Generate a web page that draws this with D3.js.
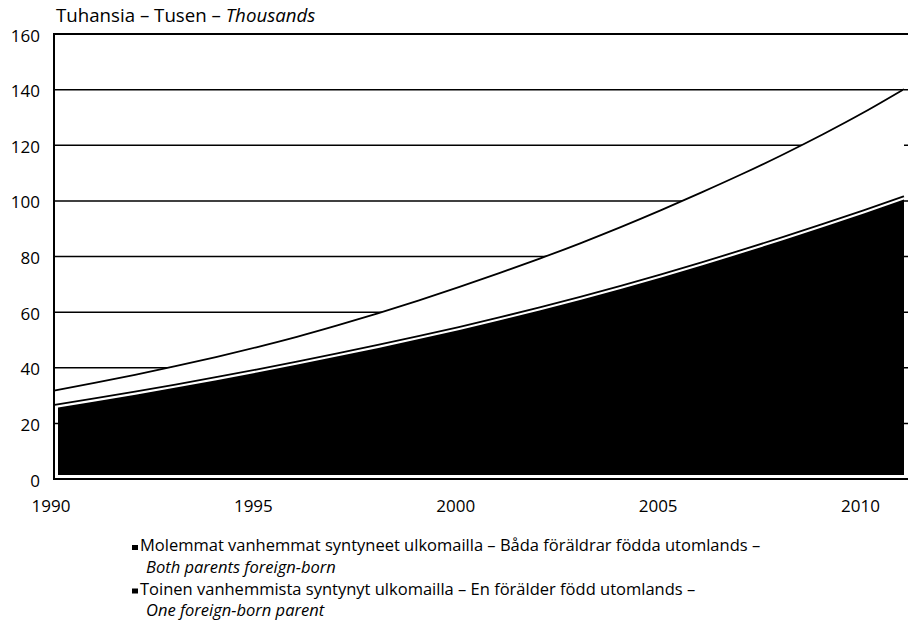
<!DOCTYPE html>
<html><head><meta charset="utf-8">
<script src="https://cdn.jsdelivr.net/npm/d3@7"></script>
<style>
html,body{margin:0;padding:0;background:#fff;}
svg{display:block;}
text{font-family:"Open Sans",sans-serif;fill:#000;}
</style></head>
<body>
<svg id="chart" width="908" height="634"></svg>
<script>
const years = [1990,1991,1992,1993,1994,1995,1996,1997,1998,1999,2000,2001,2002,2003,2004,2005,2006,2007,2008,2009,2010,2011];
// Both parents foreign-born (thousands)
const bothParents = [26.6,28.95,31.4,33.95,36.6,39.35,42.2,45.15,48.2,51.35,54.65,58.1,61.7,65.45,69.45,73.6,77.9,82.35,86.95,91.7,96.6,101.65];
// One foreign-born parent (thousands)
const oneParent = [5.2,5.6,6.05,6.6,7.25,8.0,8.9,10.05,11.35,12.8,14.35,15.9,17.55,19.3,21.1,23.05,25.15,27.3,29.65,32.25,35.15,38.5];
const yTicks = [0,20,40,60,80,100,120,140,160];
const xTicks = [1990,1995,2000,2005,2010];
const unitLabel = ["Tuhansia – Tusen – ", "Thousands"];
const legendItems = [
  ["Molemmat vanhemmat syntyneet ulkomailla – Båda föräldrar födda utomlands –", "Both parents foreign-born"],
  ["Toinen vanhemmista syntynyt ulkomailla – En förälder född utomlands –", "One foreign-born parent"]
];

const svg = d3.select("#chart");
const x = d3.scaleLinear().domain([1990, 2011]).range([54, 904]);
const y = d3.scaleLinear().domain([0, 160]).range([479, 34]);

const table = years.map((yr, i) => ({year: yr, both: bothParents[i], one: oneParent[i]}));
const stack = d3.stack().keys(["both", "one"])(table);
const curve = d3.curveMonotoneX;

// gridlines
svg.append("g").selectAll("line").data(yTicks.filter(d => d > 0 && d < 160)).join("line")
  .attr("x1", x(1990)).attr("x2", 908)
  .attr("y1", d => y(d)).attr("y2", d => y(d))
  .attr("stroke", "#000").attr("stroke-width", 1.5);

// clip for black area (inset white border)
svg.append("defs").append("clipPath").attr("id", "inset")
  .append("rect").attr("x", x(1990) + 4).attr("y", 0)
  .attr("width", 908).attr("height", y(0) - 4);

const area = d3.area().x(d => x(d.data.year)).y0(d => y(d[0])).y1(d => y(d[1])).curve(curve);
const line = d3.line().x(d => x(d.data.year)).y(d => y(d[1])).curve(curve);

// white area (one parent)
svg.append("path").datum(stack[1]).attr("d", area).attr("fill", "#fff");

// black area (both parents)
svg.append("path").datum(stack[0]).attr("d", area).attr("fill", "#000")
  .attr("clip-path", "url(#inset)");

// white separator + outline along the black area's top
svg.append("path").datum(stack[0]).attr("d", line)
  .attr("fill", "none").attr("stroke", "#fff").attr("stroke-width", 6);
svg.append("path").datum(stack[0]).attr("d", line)
  .attr("fill", "none").attr("stroke", "#000").attr("stroke-width", 1.8);

// total line
svg.append("path").datum(stack[1]).attr("d", line)
  .attr("fill", "none").attr("stroke", "#000").attr("stroke-width", 1.8);

// frame lines
svg.append("line").attr("x1", x(1990)).attr("x2", x(1990)).attr("y1", y(160) - 1).attr("y2", y(0) + 1)
  .attr("stroke", "#000").attr("stroke-width", 2);
svg.append("line").attr("x1", x(1990)).attr("x2", 908).attr("y1", y(0)).attr("y2", y(0))
  .attr("stroke", "#000").attr("stroke-width", 2);
svg.append("line").attr("x1", x(1990)).attr("x2", 908).attr("y1", y(160)).attr("y2", y(160))
  .attr("stroke", "#000").attr("stroke-width", 2);

// y tick labels
svg.append("g").selectAll("text").data(yTicks).join("text")
  .attr("x", 40).attr("y", d => y(d) + 7.5)
  .attr("text-anchor", "end").attr("font-size", 17).text(d => d);

// x tick labels
svg.append("g").selectAll("text").data(xTicks).join("text")
  .attr("x", d => x(d) - 3).attr("y", 512)
  .attr("text-anchor", "middle").attr("font-size", 17).text(d => d);

// unit label
const t = svg.append("text").attr("x", 56).attr("y", 22).attr("font-size", 18.7);
t.append("tspan").text(unitLabel[0]);
t.append("tspan").attr("font-style", "italic").text(unitLabel[1]);

// legend
const lg = svg.append("g");
legendItems.forEach((item, i) => {
  const by = 551 + i * 43.5;
  lg.append("rect").attr("x", 132).attr("y", by - 6).attr("width", 6).attr("height", 5).attr("fill", "#000");
  lg.append("text").attr("x", 140).attr("y", by).attr("font-size", 16.5).text(item[0]);
  lg.append("text").attr("x", 146).attr("y", by + 21.7).attr("font-size", 16.5)
    .attr("font-style", "italic").text(item[1]);
});
</script>
</body></html>
